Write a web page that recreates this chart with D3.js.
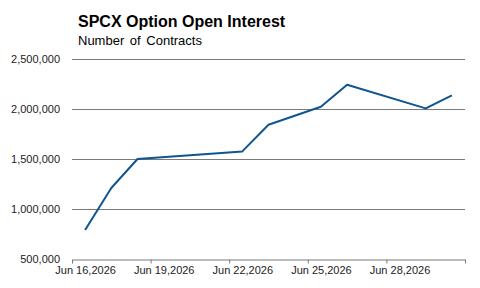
<!DOCTYPE html>
<html>
<head>
<meta charset="utf-8">
<script src="https://cdn.jsdelivr.net/npm/d3@7"></script>
<style>
body { margin: 0; background: #fff; }
svg { display: block; font-family: "Liberation Sans", Arial, sans-serif; }
</style>
</head>
<body>
<svg width="480" height="288"></svg>
<script>
// data
var dates = ["2026-06-16", "2026-06-17", "2026-06-18", "2026-06-22", "2026-06-23",
             "2026-06-25", "2026-06-26", "2026-06-29", "2026-06-30"];
var openInterest = [790000, 1210000, 1500000, 1576000, 1843000, 2023000, 2243000, 2006000, 2136000];
var yTicks = [500000, 1000000, 1500000, 2000000, 2500000];
var xTickDates = ["2026-06-16", "2026-06-19", "2026-06-22", "2026-06-25", "2026-06-28", "2026-07-01"];

var parse = d3.timeParse("%Y-%m-%d");
var fmt = d3.timeFormat("%b %d,%Y");
var HALF_DAY = 12 * 3600 * 1000;

var dataset = dates.map(function(d, i) {
    return {date: parse(d), value: openInterest[i]};
});

var plotLeft = 72, plotRight = 465, plotTop = 59, plotBottom = 259;

var xScale = d3.scaleTime()
    .domain([parse("2026-06-16"), parse("2026-07-01")])
    .range([plotLeft, plotRight]);
var yScale = d3.scaleLinear()
    .domain([500000, 2500000])
    .range([plotBottom, plotTop]);

var svg = d3.select("svg");

// title
svg.append("text")
    .attr("x", 78).attr("y", 27)
    .attr("font-size", 16).attr("font-weight", "bold").attr("fill", "#000")
    .text("SPCX Option Open Interest");
svg.append("text")
    .attr("x", 78).attr("y", 45)
    .attr("font-size", 13).attr("fill", "#000")
    .attr("word-spacing", 2)
    .text("Number of Contracts");

// gridlines + y labels
var yAxis = d3.axisLeft(yScale)
    .tickValues(yTicks)
    .tickSize(0)
    .tickPadding(12)
    .tickFormat(d3.format(","));
var yAxisGroup = svg.append("g")
    .attr("class", "yAxis")
    .attr("transform", "translate(" + plotLeft + ",0)")
    .call(yAxis);
yAxisGroup.select(".domain").remove();
yAxisGroup.selectAll("text").attr("font-size", 11).attr("fill", "#222").attr("font-family", null);

svg.append("g").attr("class", "grid")
    .selectAll("line")
    .data(yTicks.filter(function(d) { return d > 500000; }))
    .enter()
    .append("line")
    .attr("x1", plotLeft).attr("x2", plotRight)
    .attr("y1", function(d) { return yScale(d) + 0.5; })
    .attr("y2", function(d) { return yScale(d) + 0.5; })
    .attr("stroke", "#7a7a7a").attr("stroke-width", 1);

// x axis
var xAxis = d3.axisBottom(xScale)
    .tickValues(xTickDates.map(parse))
    .tickSize(4)
    .tickSizeOuter(0)
    .tickFormat(function(d, i) { return i < xTickDates.length - 1 ? fmt(d) : ""; });
var xAxisGroup = svg.append("g")
    .attr("class", "xAxis")
    .attr("transform", "translate(0," + (plotBottom + 0.5) + ")")
    .call(xAxis);
xAxisGroup.select(".domain").attr("stroke", "#7a7a7a");
xAxisGroup.selectAll(".tick line").attr("stroke", "#7a7a7a");
xAxisGroup.selectAll("text")
    .attr("font-size", 11).attr("fill", "#222").attr("font-family", null)
    .attr("x", xScale(parse("2026-06-16").getTime() + HALF_DAY) - plotLeft)
    .attr("y", 7);

// line
var line = d3.line()
    .x(function(d) { return xScale(d.date.getTime() + HALF_DAY); })
    .y(function(d) { return yScale(d.value); });
svg.append("path")
    .datum(dataset)
    .attr("d", line)
    .attr("fill", "none")
    .attr("stroke", "#0f5592")
    .attr("stroke-width", 2)
    .attr("stroke-linejoin", "round");
</script>
</body>
</html>
